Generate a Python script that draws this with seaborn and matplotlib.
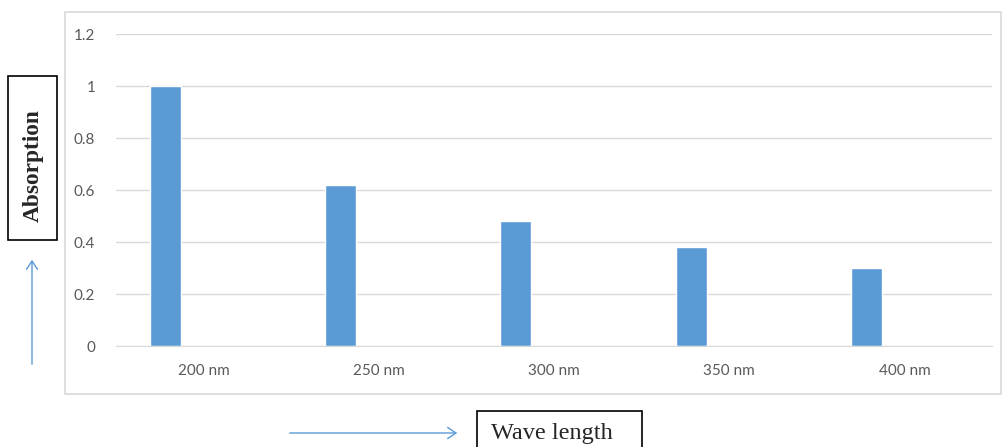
import matplotlib
matplotlib.use("Agg")
import matplotlib.pyplot as plt
from matplotlib.patches import Rectangle, FancyArrowPatch
import seaborn as sns
import pandas as pd

# data
wavelengths = ["200 nm", "250 nm", "300 nm", "350 nm", "400 nm"]
absorption = [1.0, 0.62, 0.48, 0.38, 0.30]
yticks = [0, 0.2, 0.4, 0.6, 0.8, 1.0, 1.2]
ytick_labels = ["0", "0.2", "0.4", "0.6", "0.8", "1", "1.2"]

df = pd.DataFrame({"wave": wavelengths, "abs": absorption})

W, H = 1006, 447
sns.set_style("white")
plt.rcParams["font.family"] = ["Lato", "DejaVu Sans"]

fig = plt.figure(figsize=(W / 100, H / 100), dpi=100)


def fx(x):
    return x / W


def fy(y):
    return 1 - y / H


# chart area frame
fig.add_artist(Rectangle((fx(65), fy(394)), fx(936), 382 / H, transform=fig.transFigure,
                         fill=False, edgecolor="#d9d9d9", linewidth=1.2))

ax = fig.add_axes([fx(116), fy(346), fx(876), 312 / H])
sns.barplot(data=df, x="wave", y="abs", color="#5b9bd5", width=0.177, saturation=1, ax=ax)

# excel puts the bar to the left of each category slot
for p in ax.patches:
    p.set_x(p.get_x() - 0.217)

ax.set_ylim(0, 1.2)
ax.set_xlim(-0.5, len(wavelengths) - 0.5)
ax.set_yticks(yticks)
ax.set_yticklabels(ytick_labels)
ax.grid(axis="y", color="#d9d9d9", linewidth=1)
ax.set_axisbelow(True)
ax.tick_params(axis="both", length=0, labelsize=11, labelcolor="#595959")
ax.tick_params(axis="y", pad=15)
ax.tick_params(axis="x", pad=13)
ax.set_xlabel("")
ax.set_ylabel("")
for s in ["top", "right", "left"]:
    ax.spines[s].set_visible(False)
ax.spines["bottom"].set_color("#d9d9d9")

# axis title boxes
fig.add_artist(Rectangle((fx(8), fy(240)), fx(49), 164 / H, transform=fig.transFigure,
                         fill=False, edgecolor="black", linewidth=1.2))
fig.text(fx(33), fy(166), "Absorption", rotation=90, ha="center", va="center",
         family="Liberation Serif", fontsize=16.8, fontweight="bold")

fig.add_artist(Rectangle((fx(477), fy(460)), fx(165), 49 / H, transform=fig.transFigure,
                         fill=False, edgecolor="black", linewidth=1.2, clip_on=False))
fig.text(fx(552), fy(434), "Wave length", ha="center", va="center",
         family="Liberation Serif", fontsize=17.5)

# arrows
fig.add_artist(FancyArrowPatch((fx(32), fy(367)), (fx(32), fy(257)), transform=fig.transFigure,
                               arrowstyle="->,head_length=6,head_width=4", color="#5b9bd5", linewidth=1))
fig.add_artist(FancyArrowPatch((fx(287), fy(433)), (fx(460), fy(433)), transform=fig.transFigure,
                               arrowstyle="->,head_length=6,head_width=4", color="#5b9bd5", linewidth=1))

fig.savefig("out.png", dpi=100)
